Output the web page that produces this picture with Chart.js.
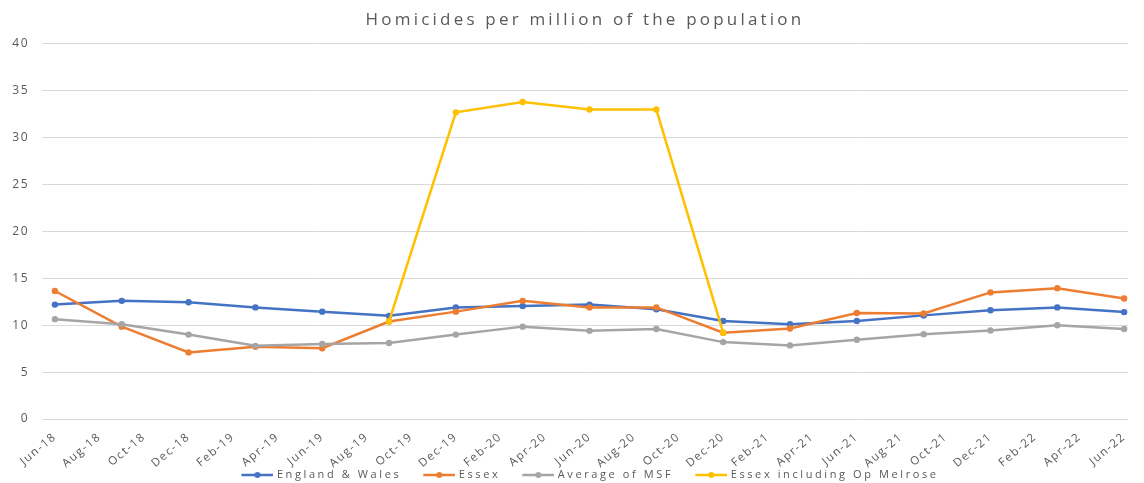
<!DOCTYPE html>
<html><head><meta charset="utf-8">
<script src="https://cdn.jsdelivr.net/npm/chart.js@4.4.1/dist/chart.umd.min.js"></script>
<style>html,body{margin:0;padding:0;background:#fff}#wrap{width:1144px;height:483px}</style>
</head><body><div id="wrap"><canvas id="c" width="1144" height="483"></canvas></div>
<script>
const quarters = ['Jun-18','Sep-18','Dec-18','Mar-19','Jun-19','Sep-19','Dec-19','Mar-20','Jun-20','Sep-20','Dec-20','Mar-21','Jun-21','Sep-21','Dec-21','Mar-22','Jun-22'];
const tickLabels = ['Jun-18','Aug-18','Oct-18','Dec-18','Feb-19','Apr-19','Jun-19','Aug-19','Oct-19','Dec-19','Feb-20','Apr-20','Jun-20','Aug-20','Oct-20','Dec-20','Feb-21','Apr-21','Jun-21','Aug-21','Oct-21','Dec-21','Feb-22','Apr-22','Jun-22'];
const englandWales = [12.2,12.6,12.45,11.9,11.45,11.0,11.9,12.05,12.2,11.7,10.45,10.1,10.45,11.05,11.6,11.9,11.4];
const essex = [13.65,9.85,7.1,7.7,7.55,10.4,11.45,12.6,11.9,11.9,9.2,9.65,11.3,11.25,13.5,13.95,12.85];
const msfAverage = [10.65,10.1,9.0,7.8,8.0,8.1,9.0,9.85,9.4,9.6,8.2,7.85,8.45,9.05,9.45,10.0,9.6];
const essexMelrose = [null,null,null,null,null,10.4,32.7,33.8,33.0,33.0,9.2,null,null,null,null,null,null];
const yTicks = [0,5,10,15,20,25,30,35,40];

const MONTHS = ['Jan','Feb','Mar','Apr','May','Jun','Jul','Aug','Sep','Oct','Nov','Dec'];
function monthIndex(lbl){
  const [m,y] = lbl.split('-');
  return (parseInt(y,10)-18)*12 + MONTHS.indexOf(m) - 5;
}
function pts(values){
  return quarters.map((q,i)=>({x: monthIndex(q), y: values[i]}));
}
const FONT = "'Open Sans', 'DejaVu Sans', sans-serif";
const TXT = '#595959';
const colors = {ew:'#4472C4', es:'#ED7D31', msf:'#A5A5A5', mel:'#FFC000'};
const SPACING = {scales: '1.5px', title: '3.2px', legend: '2.6px'};

function legendIcon(color){
  const c = document.createElement('canvas');
  c.width = 48; c.height = 10;
  const g = c.getContext('2d');
  g.strokeStyle = color; g.lineWidth = 2.5;
  g.beginPath(); g.moveTo(16,5); g.lineTo(48,5); g.stroke();
  g.fillStyle = color; g.beginPath(); g.arc(32,5,3,0,Math.PI*2); g.fill();
  return c;
}

function ds(label, values, color, order){
  return {
    label, data: pts(values), borderColor: color, backgroundColor: color,
    borderWidth: 2.5, pointRadius: 3.2, pointHoverRadius: 3.2, pointBorderWidth: 0,
    pointBackgroundColor: color, tension: 0, spanGaps: false, order,
    legendIcon: legendIcon(color)
  };
}

function wrapBox(box, methods, spacing, shiftX){
  if (!box || box.__wrapped) return;
  box.__wrapped = true;
  methods.forEach(m => {
    const orig = box[m];
    box[m] = function(...args){
      const ctx = this.ctx || this.chart.ctx;
      ctx.save(); ctx.letterSpacing = spacing;
      if (m === 'draw' && shiftX) ctx.translate(shiftX, 0);
      try { return orig.apply(this, args); } finally { ctx.restore(); }
    };
  });
}

const spacingPlugin = {
  id: 'spacing',
  beforeUpdate(chart){ chart.ctx.letterSpacing = SPACING.scales; },
  beforeLayout(chart){
    chart.ctx.letterSpacing = SPACING.scales;
    wrapBox(chart.titleBlock, ['draw'], SPACING.title, 13);
    wrapBox(chart.legend, ['fit','buildLabels','draw'], SPACING.legend, 11);
  },
  beforeDraw(chart){ chart.ctx.letterSpacing = SPACING.scales; }
};

const minX = monthIndex(tickLabels[0]);
const maxX = monthIndex(tickLabels[tickLabels.length-1]);

new Chart(document.getElementById('c'), {
  type: 'line',
  data: {
    datasets: [
      ds('England & Wales', englandWales, colors.ew, 4),
      ds('Essex', essex, colors.es, 3),
      ds('Average of MSF', msfAverage, colors.msf, 2),
      ds('Essex including Op Melrose', essexMelrose, colors.mel, 1)
    ]
  },
  plugins: [spacingPlugin],
  options: {
    responsive: false, animation: false, devicePixelRatio: 1,
    layout: {padding: {left: 0, right: 0, top: 0, bottom: -7.5}},
    plugins: {
      title: {display: true, text: 'Homicides per million of the population', color: TXT,
        font: {family: FONT, size: 17, weight: 'normal'}, padding: {top: 10, bottom: 13.5}},
      legend: {position: 'bottom',
        labels: {color: TXT, font: {family: FONT, size: 11}, usePointStyle: true, pointStyleWidth: 44, padding: 8,
          sort: (a, b) => a.datasetIndex - b.datasetIndex,
          generateLabels(chart){
            const items = Chart.defaults.plugins.legend.labels.generateLabels(chart);
            items.forEach(it => { it.pointStyle = chart.data.datasets[it.datasetIndex].legendIcon; });
            return items;
          }}},
      tooltip: {enabled: false}
    },
    scales: {
      x: {type: 'linear', min: minX - 0.58, max: maxX + 0.18,
        grid: {display: false, drawTicks: false},
        border: {display: false},
        afterBuildTicks(scale){ scale.ticks = tickLabels.map(l => ({value: monthIndex(l)})); },
        afterFit(scale){ scale.height = 42.5; scale._computeLabelArea = () => undefined; },
        ticks: {autoSkip: false, minRotation: 40, maxRotation: 40, padding: 11, color: TXT,
          font: {family: FONT, size: 11.5},
          callback(v){ const i = tickLabels.findIndex(l => monthIndex(l) === v); return i >= 0 ? tickLabels[i] : ''; }}
      },
      y: {min: 0, max: 40,
        afterBuildTicks(scale){ scale.ticks = yTicks.map(v => ({value: v})); },
        afterFit(scale){ scale.width = 42; },
        grid: {color: '#D9D9D9', lineWidth: 1, drawTicks: false},
        border: {display: false},
        ticks: {padding: 13, color: TXT, font: {family: FONT, size: 12}}
      }
    }
  }
});
</script></body></html>
